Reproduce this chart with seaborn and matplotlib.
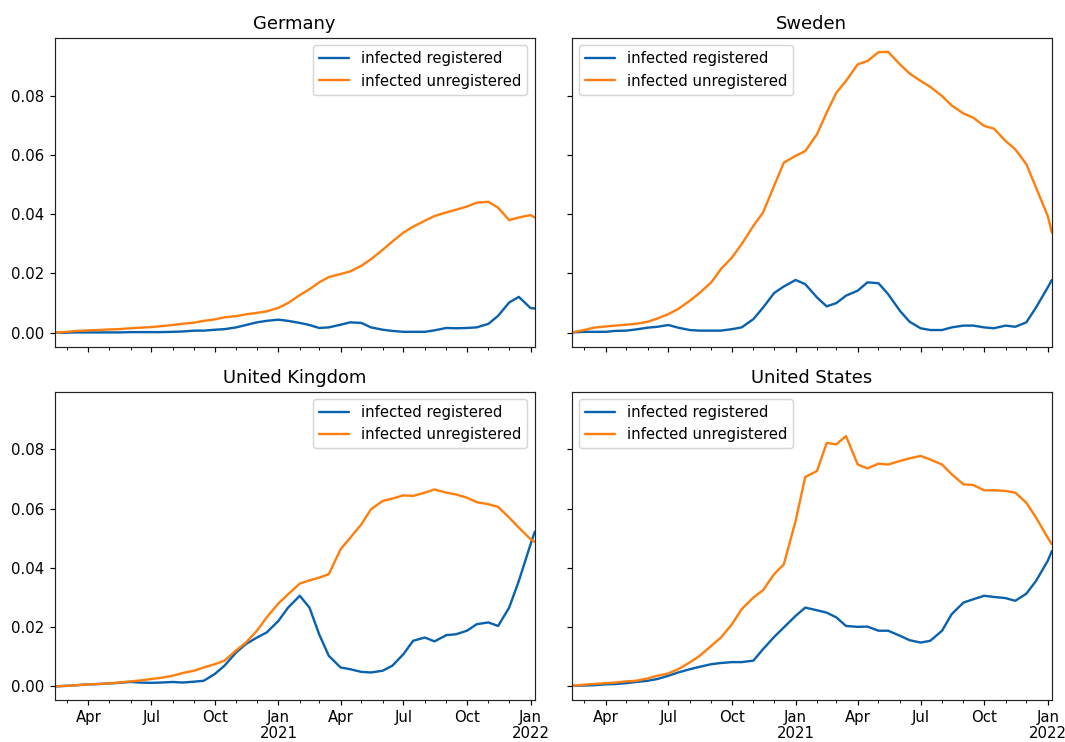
import numpy as np
import pandas as pd
import matplotlib
matplotlib.use("Agg")
import matplotlib.pyplot as plt
import matplotlib.dates as mdates
import seaborn as sns

# Sampling dates: mid-February 2020 through early January 2022 (1st and 15th of each month)
dates = pd.to_datetime(
    ["2020-02-12"]
    + [f"{y}-{m:02d}-{d:02d}" for y in (2020, 2021) for m in range(1, 13) for d in (1, 15)
       if not (y == 2020 and m < 3)]
    + ["2022-01-01", "2022-01-07"]
)

countries = ["Germany", "Sweden", "United Kingdom", "United States"]
series_names = ["infected registered", "infected unregistered"]

germany_registered = [
    0.0, 0.0, 0.0001, 0.0001, 0.0001, 0.0001, 0.0001, 0.0002, 0.0002, 0.0002, 0.0002,
    0.0003, 0.0004, 0.0007, 0.0007, 0.0010, 0.0012, 0.0018, 0.0026, 0.0035, 0.0040,
    0.0044, 0.0040, 0.0033, 0.0026, 0.0016, 0.0018, 0.0027, 0.0035, 0.0033, 0.0018,
    0.0010, 0.0006, 0.0003, 0.0003, 0.0003, 0.0008, 0.0016, 0.0015, 0.0016, 0.0018,
    0.0030, 0.0057, 0.0102, 0.0121, 0.0083, 0.0082,
]
germany_unregistered = [
    0.0, 0.0003, 0.0006, 0.0008, 0.0009, 0.0011, 0.0012, 0.0015, 0.0017, 0.0019, 0.0022,
    0.0026, 0.0030, 0.0034, 0.0040, 0.0045, 0.0052, 0.0056, 0.0062, 0.0067, 0.0072,
    0.0084, 0.0100, 0.0127, 0.0147, 0.0170, 0.0188, 0.0198, 0.0207, 0.0226, 0.0248,
    0.0280, 0.0308, 0.0338, 0.0358, 0.0378, 0.0394, 0.0406, 0.0415, 0.0426, 0.0439,
    0.0442, 0.0422, 0.0380, 0.0389, 0.0397, 0.0389,
]
sweden_registered = [
    0.0001, 0.0003, 0.0003, 0.0003, 0.0006, 0.0007, 0.0011, 0.0017, 0.0020, 0.0026, 0.0017,
    0.0009, 0.0007, 0.0007, 0.0007, 0.0012, 0.0018, 0.0046, 0.0085, 0.0134, 0.0156,
    0.0178, 0.0164, 0.0119, 0.0089, 0.0100, 0.0125, 0.0142, 0.0170, 0.0167, 0.0130,
    0.0074, 0.0037, 0.0015, 0.0009, 0.0009, 0.0018, 0.0024, 0.0024, 0.0018, 0.0015,
    0.0024, 0.0020, 0.0035, 0.0085, 0.0153, 0.0178,
]
sweden_unregistered = [
    0.0001, 0.0009, 0.0017, 0.0021, 0.0024, 0.0027, 0.0030, 0.0037, 0.0048, 0.0063, 0.0080,
    0.0108, 0.0134, 0.0170, 0.0215, 0.0254, 0.0299, 0.0361, 0.0406, 0.0496, 0.0574,
    0.0597, 0.0613, 0.0670, 0.0743, 0.0810, 0.0850, 0.0906, 0.0917, 0.0947, 0.0948,
    0.0906, 0.0875, 0.0850, 0.0830, 0.0799, 0.0767, 0.0740, 0.0726, 0.0698, 0.0689,
    0.0647, 0.0619, 0.0569, 0.0490, 0.0394, 0.0338,
]
uk_registered = [
    0.0, 0.0002, 0.0004, 0.0007, 0.0008, 0.0010, 0.0012, 0.0015, 0.0013, 0.0012, 0.0013,
    0.0015, 0.0013, 0.0016, 0.0019, 0.0042, 0.0070, 0.0115, 0.0143, 0.0165, 0.0182,
    0.0221, 0.0266, 0.0306, 0.0266, 0.0176, 0.0103, 0.0064, 0.0058, 0.0049, 0.0047,
    0.0053, 0.0070, 0.0109, 0.0154, 0.0165, 0.0152, 0.0173, 0.0176, 0.0188, 0.0210,
    0.0216, 0.0204, 0.0266, 0.0356, 0.0480, 0.0522,
]
uk_unregistered = [
    0.0, 0.0002, 0.0004, 0.0007, 0.0008, 0.0010, 0.0013, 0.0017, 0.0020, 0.0025, 0.0029,
    0.0036, 0.0045, 0.0053, 0.0064, 0.0075, 0.0087, 0.0122, 0.0148, 0.0188, 0.0233,
    0.0280, 0.0311, 0.0347, 0.0358, 0.0367, 0.0379, 0.0463, 0.0502, 0.0547, 0.0598,
    0.0626, 0.0634, 0.0645, 0.0643, 0.0654, 0.0665, 0.0654, 0.0648, 0.0637, 0.0622,
    0.0615, 0.0606, 0.0570, 0.0536, 0.0497, 0.0488,
]
us_registered = [
    0.0002, 0.0003, 0.0004, 0.0007, 0.0008, 0.0011, 0.0015, 0.0019, 0.0025, 0.0036, 0.0047,
    0.0058, 0.0066, 0.0075, 0.0079, 0.0082, 0.0082, 0.0087, 0.0126, 0.0167, 0.0199,
    0.0238, 0.0266, 0.0257, 0.0249, 0.0233, 0.0204, 0.0201, 0.0202, 0.0188, 0.0188,
    0.0171, 0.0156, 0.0148, 0.0154, 0.0188, 0.0244, 0.0283, 0.0294, 0.0306, 0.0302,
    0.0298, 0.0289, 0.0313, 0.0356, 0.0424, 0.0457,
]
us_unregistered = [
    0.0002, 0.0006, 0.0008, 0.0011, 0.0013, 0.0017, 0.0019, 0.0027, 0.0036, 0.0044, 0.0058,
    0.0081, 0.0103, 0.0137, 0.0165, 0.0210, 0.0261, 0.0300, 0.0325, 0.0379, 0.0412,
    0.0558, 0.0707, 0.0727, 0.0822, 0.0817, 0.0845, 0.0749, 0.0736, 0.0752, 0.0749,
    0.0761, 0.0770, 0.0778, 0.0766, 0.0749, 0.0716, 0.0682, 0.0680, 0.0662, 0.0662,
    0.0660, 0.0654, 0.0620, 0.0570, 0.0502, 0.0480,
]

data = {
    "Germany": (germany_registered, germany_unregistered),
    "Sweden": (sweden_registered, sweden_unregistered),
    "United Kingdom": (uk_registered, uk_unregistered),
    "United States": (us_registered, us_unregistered),
}
legend_loc = {"Germany": "upper right", "Sweden": "upper left",
              "United Kingdom": "upper right", "United States": "upper left"}

frames = []
for country, (reg, unreg) in data.items():
    for name, vals in zip(series_names, (reg, unreg)):
        frames.append(pd.DataFrame({"date": dates, "value": vals,
                                    "series": name, "country": country}))
df = pd.concat(frames, ignore_index=True)

sns.set_theme(style="ticks", context="notebook")
plt.rcParams.update({
    "font.family": ["DejaVu Sans"],
    "font.size": 10,
    "xtick.labelsize": 10,
    "ytick.labelsize": 10,
    "legend.fontsize": 10,
    "axes.titlesize": 12,
    "axes.linewidth": 0.8,
    "axes.edgecolor": "#222222",
    "text.color": "black",
    "xtick.color": "black",
    "ytick.color": "black",
    "xtick.major.size": 3.5,
    "ytick.major.size": 3.5,
    "xtick.minor.size": 2,
    "ytick.minor.size": 2,
    "xtick.major.width": 0.8,
    "ytick.major.width": 0.8,
    "xtick.minor.width": 0.6,
    "xtick.major.pad": 2.8,
    "ytick.major.pad": 3.5,
    "xtick.direction": "out",
    "ytick.direction": "out",
})

palette = {"infected registered": "#0a62ad", "infected unregistered": "#ff7f0e"}

fig, axes = plt.subplots(2, 2, figsize=(1065 / 107, 742 / 107), dpi=107,
                         sharex=True, sharey=True)
fig.subplots_adjust(left=0.0512, right=0.9877, top=0.949, bottom=0.056,
                    wspace=0.077, hspace=0.145)


def month_label(x, pos=None):
    d = mdates.num2date(x)
    lab = d.strftime("%b")
    if d.month == 1:
        lab += "\n" + d.strftime("%Y")
    return lab


for ax, country in zip(axes.flat, countries):
    sub = df[df["country"] == country]
    sns.lineplot(data=sub, x="date", y="value", hue="series", palette=palette,
                 hue_order=series_names, ax=ax, linewidth=1.6)
    ax.set_title(country, color="black")
    ax.set_xlabel("")
    ax.set_ylabel("")
    ax.legend(loc=legend_loc[country], frameon=True, fancybox=True,
              framealpha=0.8, edgecolor="#cccccc")
    ax.margins(x=0)

ax0 = axes[0, 0]
ax0.set_xlim(dates.min(), dates.max())
ax0.xaxis.set_major_locator(mdates.MonthLocator(bymonth=[1, 4, 7, 10]))
ax0.xaxis.set_minor_locator(mdates.MonthLocator())
ax0.xaxis.set_major_formatter(plt.FuncFormatter(month_label))
ax0.set_yticks([0.0, 0.02, 0.04, 0.06, 0.08])
ax0.yaxis.set_major_formatter(plt.FormatStrFormatter("%.2f"))
for ax in axes[1]:
    for lab in ax.get_xticklabels():
        lab.set_rotation(0)
        lab.set_ha("center")
        lab.set_linespacing(1.1)

fig.savefig("out.png", dpi=107)
